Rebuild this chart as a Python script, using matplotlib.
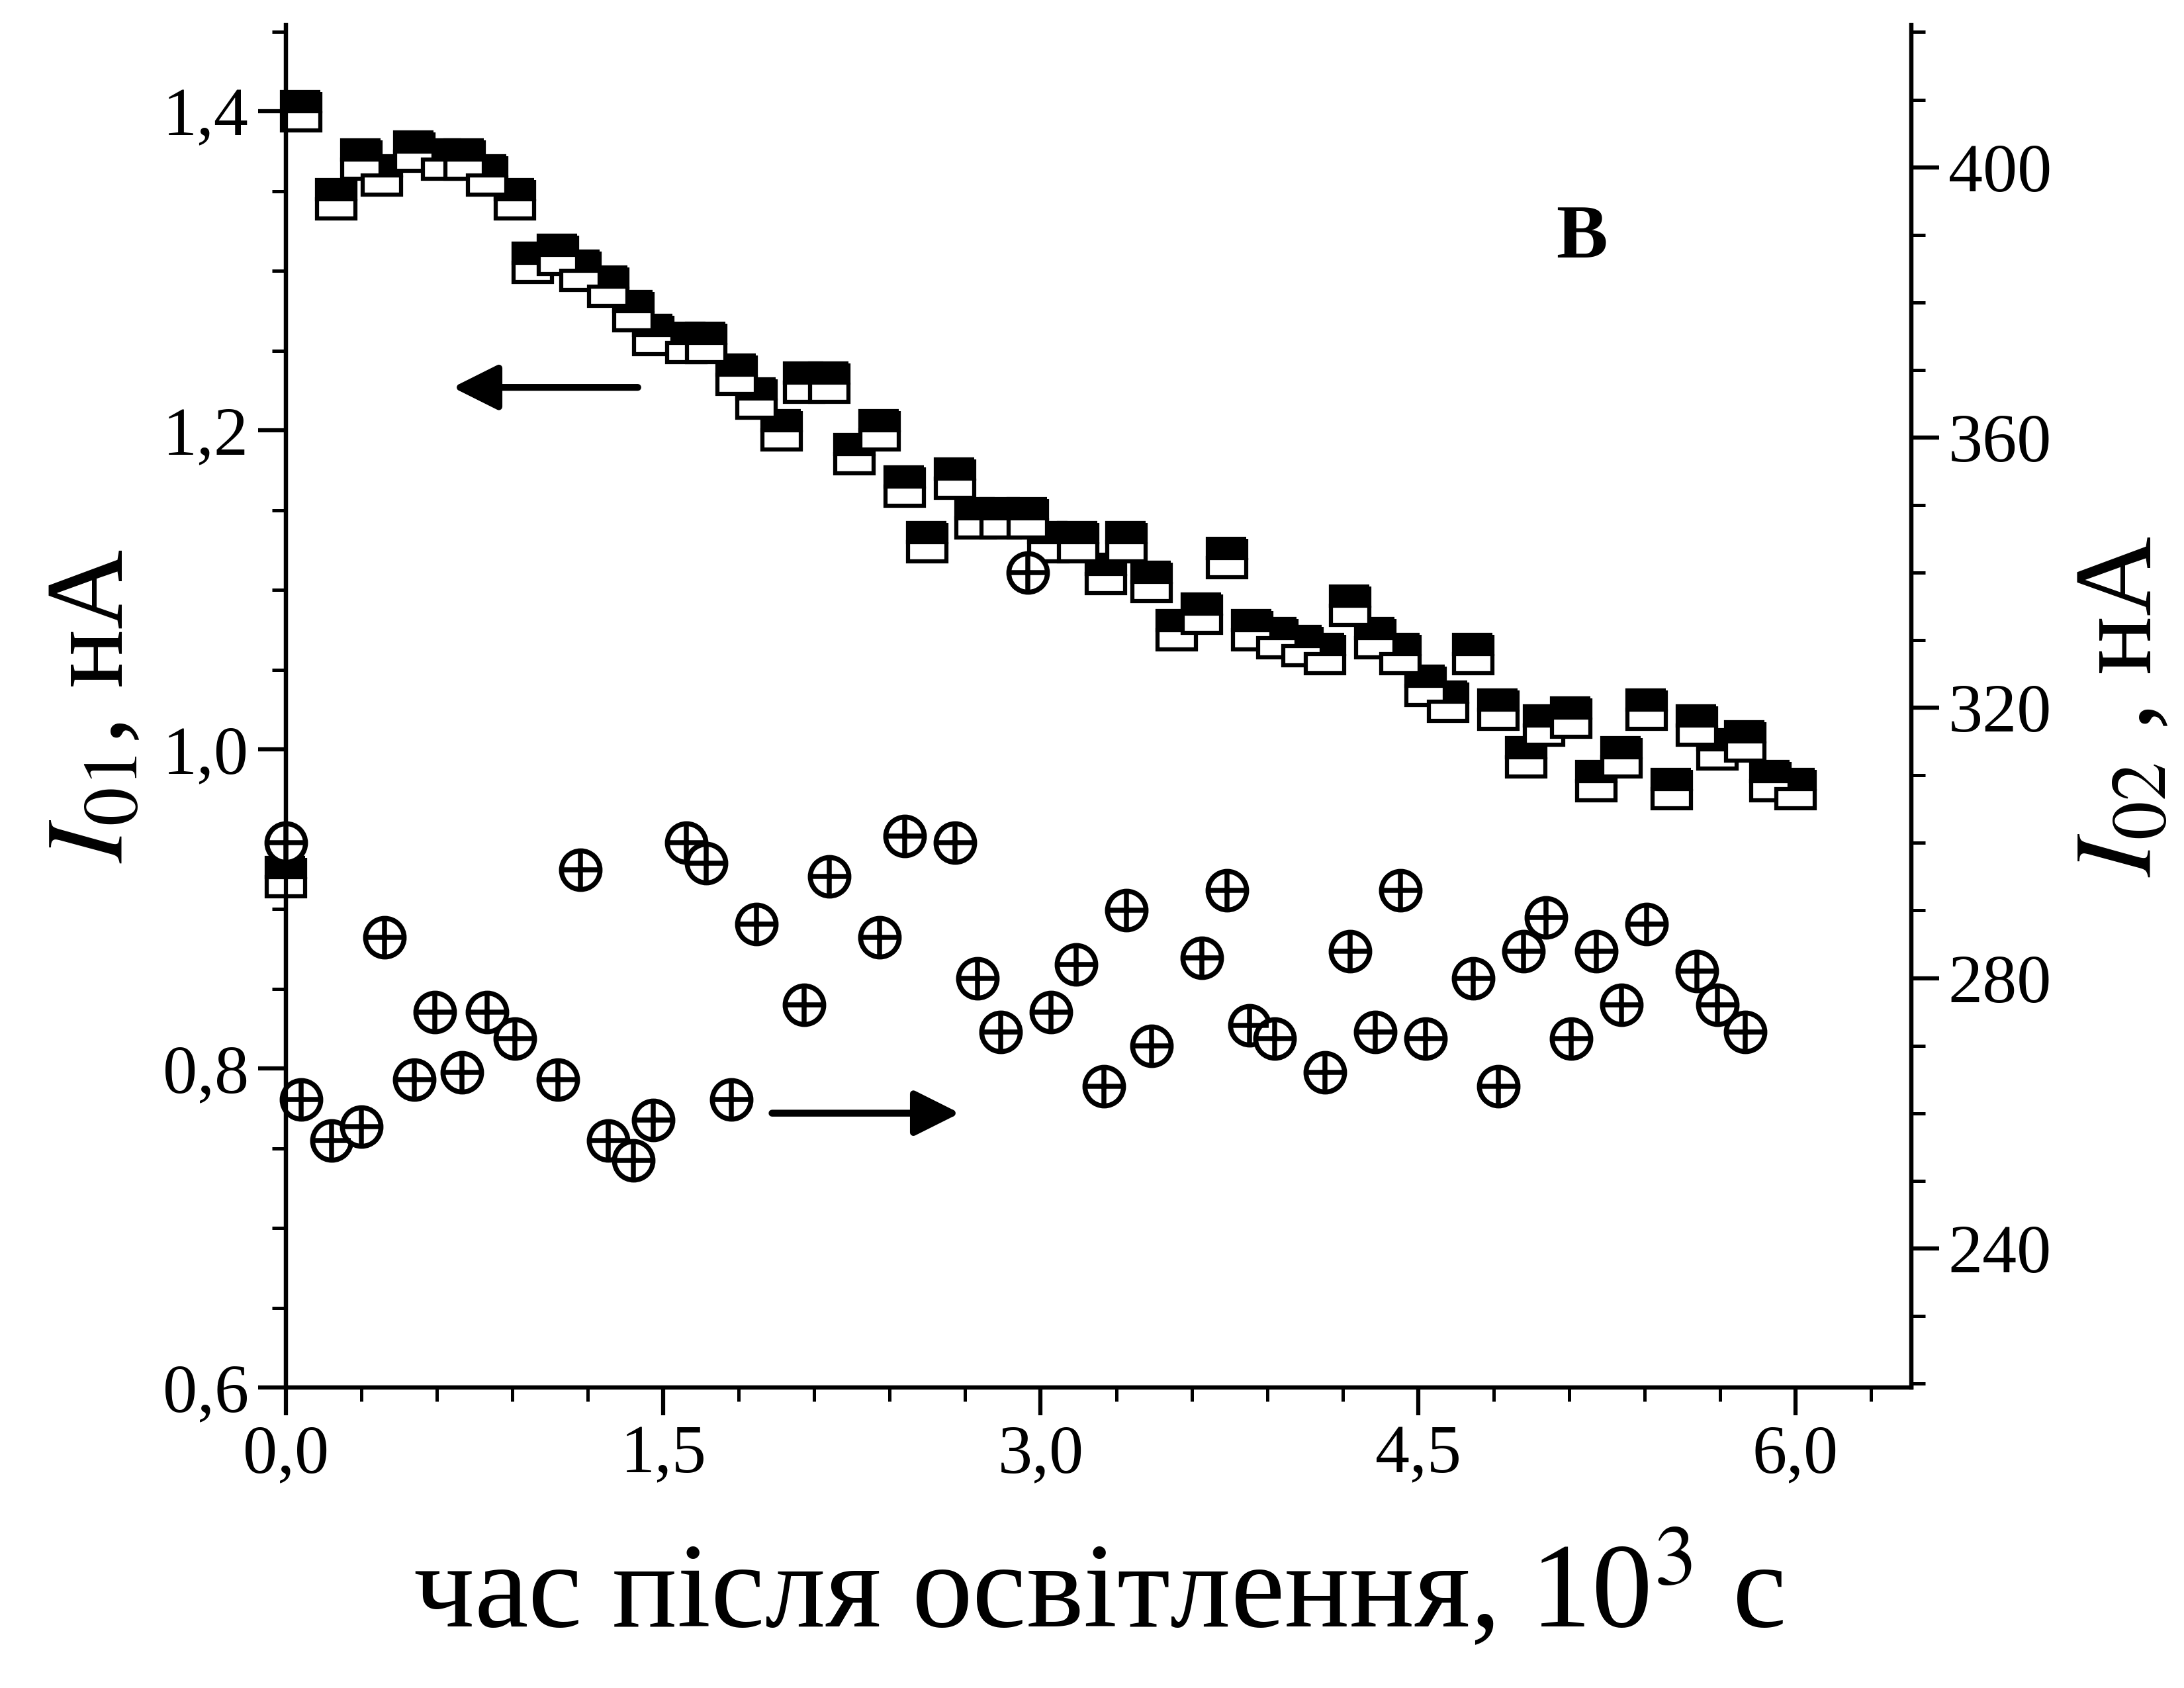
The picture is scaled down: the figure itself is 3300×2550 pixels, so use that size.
import matplotlib

matplotlib.use("Agg")

import matplotlib.pyplot as plt
from matplotlib.ticker import FuncFormatter, MultipleLocator

plt.rcParams["font.family"] = ["Liberation Serif", "DejaVu Serif"]
plt.rcParams["mathtext.fontset"] = "stix"

# I01 (left axis), time in 10^3 s
t1 = [0.0, 0.06, 0.20, 0.30, 0.38, 0.51, 0.62, 0.71, 0.80, 0.91, 0.98, 1.08,
      1.17, 1.28, 1.38, 1.46, 1.59, 1.67, 1.79, 1.87, 1.97, 2.06, 2.16, 2.26,
      2.36, 2.46, 2.55, 2.66, 2.74, 2.84, 2.95, 3.03, 3.15, 3.26, 3.34, 3.44,
      3.54, 3.64, 3.74, 3.84, 3.94, 4.04, 4.13, 4.23, 4.33, 4.43, 4.53, 4.62,
      4.72, 4.82, 4.93, 5.00, 5.11, 5.21, 5.31, 5.41, 5.51, 5.61, 5.69, 5.80,
      5.90, 6.00]
i01 = [0.92, 1.40, 1.345, 1.37, 1.36, 1.375, 1.37, 1.37, 1.36, 1.345, 1.305,
       1.31, 1.30, 1.29, 1.275, 1.26, 1.255, 1.255, 1.235, 1.22, 1.20, 1.23,
       1.23, 1.185, 1.20, 1.165, 1.13, 1.17, 1.145, 1.145, 1.145, 1.13, 1.13,
       1.11, 1.13, 1.105, 1.075, 1.085, 1.12, 1.075, 1.07, 1.065, 1.06, 1.09,
       1.07, 1.06, 1.04, 1.03, 1.06, 1.025, 0.995, 1.015, 1.02, 0.98, 0.995,
       1.025, 0.975, 1.015, 1.00, 1.005, 0.98, 0.975]

# I02 (right axis)
t2 = [0.0, 0.06, 0.18, 0.30, 0.39, 0.51, 0.59, 0.70, 0.80, 0.91, 1.08, 1.17,
      1.28, 1.38, 1.46, 1.59, 1.67, 1.77, 1.87, 2.06, 2.16, 2.36, 2.46, 2.66,
      2.75, 2.84, 2.95, 3.04, 3.14, 3.25, 3.34, 3.44, 3.64, 3.74, 3.83, 3.93,
      4.13, 4.23, 4.33, 4.43, 4.53, 4.72, 4.82, 4.92, 5.01, 5.11, 5.21, 5.31,
      5.41, 5.61, 5.69, 5.80]
i02 = [300, 262, 256, 258, 286, 265, 275, 266, 275, 271, 265, 296, 256, 253,
       259, 300, 297, 262, 288, 276, 295, 286, 301, 300, 280, 272, 340, 275,
       282, 264, 290, 270, 283, 293, 273, 271, 266, 284, 272, 293, 271, 280,
       264, 284, 289, 271, 284, 276, 288, 281, 276, 272]

comma = lambda fmt: FuncFormatter(lambda v, p: (fmt % v).replace(".", ","))

fig = plt.figure(figsize=(11, 8.5), dpi=300)
ax = fig.add_axes([0.131, 0.178, 0.744, 0.807])
ax2 = ax.twinx()

ax.plot(t1, i01, linestyle="none", marker="s", markersize=14, fillstyle="top",
        markerfacecolor="black", markerfacecoloralt="white",
        markeredgecolor="black", markeredgewidth=1.5, clip_on=False, zorder=3)
ax2.plot(t2, i02, linestyle="none", marker="o", markersize=14,
         markerfacecolor="white", markeredgecolor="black", markeredgewidth=1.8,
         clip_on=False)
ax2.plot(t2, i02, linestyle="none", marker="+", markersize=14,
         markeredgecolor="black", markeredgewidth=1.8, clip_on=False)

ax.set_xlim(0, 6.46)
ax.set_ylim(0.6, 1.454)
ax2.set_ylim(219.4, 421)

ax.xaxis.set_major_locator(MultipleLocator(1.5))
ax.xaxis.set_minor_locator(MultipleLocator(0.3))
ax.yaxis.set_major_locator(MultipleLocator(0.2))
ax.yaxis.set_minor_locator(MultipleLocator(0.05))
ax2.yaxis.set_major_locator(MultipleLocator(40))
ax2.yaxis.set_minor_locator(MultipleLocator(10))
ax.xaxis.set_major_formatter(comma("%.1f"))
ax.yaxis.set_major_formatter(comma("%.1f"))

for a in (ax, ax2):
    a.spines["top"].set_visible(False)
    for s in a.spines.values():
        s.set_linewidth(1.5)
    a.tick_params(which="major", length=10, width=1.5, labelsize=25, direction="out")
    a.tick_params(which="minor", length=5, width=1.2, direction="out")

ax.set_xlabel("час після освітлення, 10$^3$ с", fontsize=44, labelpad=16)
ax.set_ylabel("$I_{01}$, нА", fontsize=40, labelpad=6)
ax2.set_ylabel("$I_{02}$ , нА", fontsize=40, labelpad=8)

ax.text(5.15, 1.32, "В", fontsize=28, fontweight="bold", ha="center", va="center")
ax.annotate("", xy=(0.64, 1.227), xytext=(1.42, 1.227),
            arrowprops=dict(arrowstyle="-|>", color="black", lw=2.5,
                            mutation_scale=35))
ax.annotate("", xy=(2.70, 0.772), xytext=(1.91, 0.772),
            arrowprops=dict(arrowstyle="-|>", color="black", lw=2.5,
                            mutation_scale=35))

fig.savefig("out.png", dpi=300)
